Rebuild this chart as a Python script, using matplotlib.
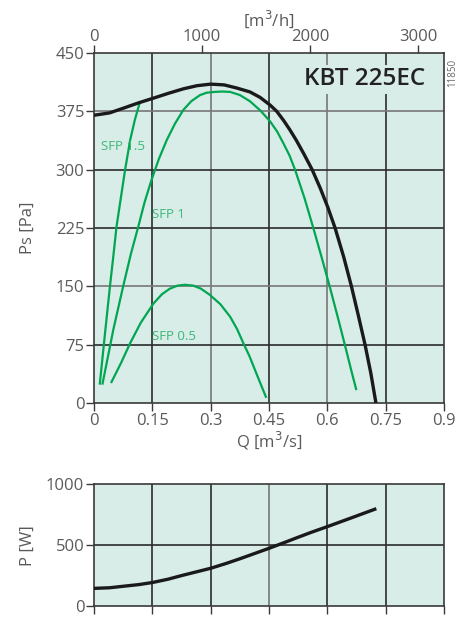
import matplotlib
matplotlib.use("Agg")
import matplotlib.pyplot as plt

plt.rcParams['font.family'] = ['Open Sans', 'DejaVu Sans']

# ---- data ----
fan_q = [0, 0.04, 0.075, 0.115, 0.153, 0.19, 0.23, 0.265, 0.30, 0.335, 0.367, 0.401, 0.427,
         0.453, 0.470, 0.488, 0.504, 0.520, 0.540, 0.561, 0.582, 0.601, 0.620, 0.642, 0.662,
         0.680, 0.697, 0.712, 0.725]
fan_ps = [370, 373, 379, 386, 392, 398, 404, 408, 410, 409, 405, 400, 393,
          383, 375, 363, 351, 338, 320, 300, 276, 252, 225, 188, 150,
          112, 75, 38, 0]

sfp15_q = [0.015, 0.028, 0.041, 0.050, 0.058, 0.067, 0.080, 0.093, 0.105, 0.117]
sfp15_ps = [25, 88, 150, 190, 227, 257, 300, 338, 364, 385]

sfp1_q = [0.022, 0.05, 0.075, 0.095, 0.114, 0.13, 0.148, 0.167, 0.187, 0.208, 0.23, 0.25,
          0.273, 0.29, 0.31, 0.33, 0.35, 0.375, 0.401, 0.428, 0.453, 0.471, 0.487, 0.503,
          0.517, 0.541, 0.564, 0.585, 0.606, 0.626, 0.645, 0.66, 0.674]
sfp1_ps = [25, 95, 150, 192, 227, 258, 287, 314, 338, 359, 377, 388,
           396, 399, 400, 400.5, 400, 396, 388, 376, 362, 349, 334, 318,
           300, 264, 225, 188, 150, 112, 75, 45, 18]

sfp05_q = [0.045, 0.07, 0.093, 0.12, 0.153, 0.175, 0.195, 0.215, 0.234, 0.255, 0.275,
           0.298, 0.325, 0.35, 0.368, 0.384, 0.40, 0.42, 0.442]
sfp05_ps = [27, 52, 77, 103, 128, 140, 147, 151, 152, 151, 147,
            139, 127, 111, 95, 77, 60, 35, 8]

power_q = [0, 0.04, 0.08, 0.115, 0.15, 0.19, 0.225, 0.26, 0.30, 0.34, 0.375, 0.41, 0.45,
           0.49, 0.525, 0.56, 0.60, 0.66, 0.722]
power_w = [145, 150, 164, 176, 193, 220, 250, 278, 310, 350, 388, 428, 474,
           522, 565, 607, 652, 722, 795]

q_ticks = [0, 0.15, 0.3, 0.45, 0.6, 0.75, 0.9]
q_labels = ['0', '0.15', '0.3', '0.45', '0.6', '0.75', '0.9']
ps_ticks = [0, 75, 150, 225, 300, 375, 450]
p_ticks = [0, 500, 1000]
m3h_ticks = [0, 1000, 2000, 3000]

sfp_labels = ['SFP 1.5', 'SFP 1', 'SFP 0.5']
sfp_label_pos = [(0.018, 330), (0.149, 243), (0.149, 86)]

# ---- style ----
BG = '#d8ece8'
DARK = '#2b2b2b'
GRAY = '#777777'
GREEN = '#00a651'
LGREEN = '#3cb878'
TXT = '#5a5a5a'

fig = plt.figure(figsize=(4.61, 6.26), dpi=100)
ax = fig.add_axes([0.2039, 0.3562, 0.7592, 0.5591])
ax2 = fig.add_axes([0.2039, 0.0319, 0.7592, 0.1945])

def grid_style(a, xgray, ygray, yt):
    a.set_facecolor(BG)
    for x in q_ticks[1:-1]:
        a.axvline(x, color=GRAY if x in xgray else DARK, lw=1.2, zorder=1)
    for y in yt[1:-1]:
        a.axhline(y, color=GRAY if y in ygray else DARK, lw=1.2, zorder=1)
    for s in a.spines.values():
        s.set_color('#3a3a3a')
        s.set_linewidth(1.2)
    a.tick_params(colors='#3a3a3a', labelcolor=TXT, labelsize=12, length=6, width=1.0, direction='out')

grid_style(ax, [0.3, 0.6], [150, 375], ps_ticks)
ax.set_xlim(0, 0.9)
ax.set_ylim(0, 450)
ax.set_xticks(q_ticks)
ax.set_xticklabels(q_labels)
ax.set_yticks(ps_ticks)
ax.tick_params(axis='x', pad=1)
ax.tick_params(axis='y', pad=1)

ax.plot(sfp15_q, sfp15_ps, color=GREEN, lw=1.6, zorder=3)
ax.plot(sfp1_q, sfp1_ps, color=GREEN, lw=1.6, zorder=3)
ax.plot(sfp05_q, sfp05_ps, color=GREEN, lw=1.6, zorder=3)
ax.plot(fan_q, fan_ps, color='#1a1a1a', lw=2.4, zorder=4, solid_capstyle='butt')

for lab, (x, y) in zip(sfp_labels, sfp_label_pos):
    ax.text(x, y, lab, color=LGREEN, fontsize=9.5, ha='left', va='center', zorder=5)

ax.text(0.697, 416, 'KBT 225EC', fontsize=17.5, fontweight='semibold', color='#222222',
        ha='center', va='center', zorder=5,
        bbox=dict(boxstyle='square,pad=0.1', fc=BG, ec='none'))

ax.set_xlabel('Q [m$^3$/s]', fontsize=12, color=TXT, labelpad=1)
ax.set_ylabel('Ps [Pa]', fontsize=12, color=TXT)
ax.yaxis.set_label_coords(-0.165, 0.5)

sec = ax.secondary_xaxis('top', functions=(lambda q: q * 3600, lambda h: h / 3600))
sec.set_xticks(m3h_ticks)
sec.tick_params(colors='#3a3a3a', labelcolor=TXT, labelsize=12, length=6, width=1.0, pad=0)
sec.spines['top'].set_visible(False)
sec.set_xlabel('[m$^3$/h]', fontsize=12, color=TXT, labelpad=2)

fig.text(0.982, 0.883, '11850', rotation=90, fontsize=7, color='#666666', ha='center', va='center')

grid_style(ax2, [0.45], [], p_ticks)
ax2.set_xlim(0, 0.9)
ax2.set_ylim(0, 1000)
ax2.set_xticks(q_ticks)
ax2.set_xticklabels([])
ax2.set_yticks(p_ticks)
ax2.tick_params(axis='y', pad=1)
ax2.plot(power_q, power_w, color='#1a1a1a', lw=2.4, zorder=4)
ax2.set_ylabel('P [W]', fontsize=12, color=TXT)
ax2.yaxis.set_label_coords(-0.165, 0.5)

fig.savefig('out.png', dpi=100)
